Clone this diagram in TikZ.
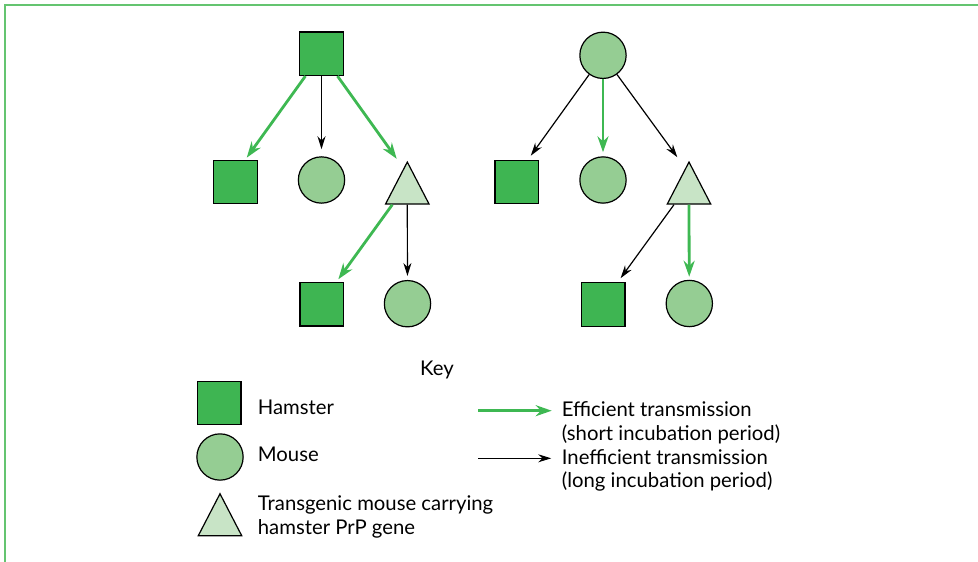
\documentclass[tikz,border=0pt]{standalone}
\usepackage{fontspec}
\setmainfont{Lato}
\usepackage{tikz}
\usetikzlibrary{arrows.meta,positioning,shapes.geometric}
\definecolor{hamfill}{RGB}{62,181,82}
\definecolor{mousefill}{RGB}{149,205,147}
\definecolor{tgfill}{RGB}{200,228,198}
\definecolor{effgreen}{RGB}{62,184,82}
\definecolor{framegreen}{RGB}{100,196,112}

\begin{document}
\begin{tikzpicture}[x=1pt,y=-1pt,>=Stealth,font=\fontsize{20.3}{23.7}\selectfont,
 hamster/.style={draw,line width=1.2pt,fill=hamfill,minimum size=43.5pt,inner sep=0pt},
 mouse/.style={circle,draw,line width=1.2pt,fill=mousefill,minimum size=46.3pt,inner sep=0pt},
 tgmouse/.style={isosceles triangle,isosceles triangle stretches,shape border rotate=90,draw,line width=1.2pt,fill=tgfill,minimum width=43.5pt,minimum height=42pt,inner sep=0pt,anchor=apex},
 eff/.style={draw=effgreen,line width=2.8pt,-{Stealth[length=16pt,width=11pt]}},
 ineff/.style={line width=1.2pt,-{Stealth[length=13pt,width=8pt]}},
 keytext/.style={anchor=base west,align=left,inner sep=0pt}]
 \useasboundingbox (0,0) rectangle (978,562);
 \draw[framegreen,line width=1.7pt] (5.2,562) -- (5.2,5.2) -- (978,5.2);
 \begin{scope}
 \node[hamster] (hroot) at (321.5,53.7) {};
 \node[hamster] (hleft) at (235.4,182) {};
 \node[mouse] (mleft) at (321.5,180) {};
 \node[tgmouse] (tleft) at (407.3,160.5) {};
 \node[hamster] (hlow) at (321.7,304.3) {};
 \node[mouse] (mlow) at (407.5,303.7) {};
 \draw[eff] (hroot) -- ([xshift=-11pt,yshift=2pt]hleft.north east);
 \draw[ineff,shorten >=7pt] (hroot) -- (mleft);
 \draw[eff] (hroot) -- ([xshift=-10.6pt,yshift=1.7pt]tleft.apex);
 \draw[eff] ([xshift=-15pt]tleft.lower side) -- ([xshift=-5.7pt,yshift=2.7pt]hlow.north east);
 \draw[ineff,shorten >=4pt] (tleft.lower side) -- (mlow);
 \end{scope}
 \begin{scope}
 \node[mouse] (mroot) at (603,55.3) {};
 \node[hamster] (hright) at (516.8,182) {};
 \node[mouse] (mright) at (603,180) {};
 \node[tgmouse] (tright) at (689,160.5) {};
 \node[hamster] (hrlow) at (603.3,304.5) {};
 \node[mouse] (mrlow) at (689.3,303.5) {};
 \draw[ineff] (mroot) -- ([xshift=-8.3pt,yshift=4pt]hright.north east);
 \draw[eff,shorten >=4pt] (mroot) -- (mright);
 \draw[ineff] (mroot) -- ([xshift=-11.7pt,yshift=3.3pt]tright.apex);
 \draw[ineff] ([xshift=-15pt]tright.lower side) -- ([xshift=-5pt,yshift=4pt]hrlow.north east);
 \draw[eff,shorten >=3pt] (tright.lower side) -- (mrlow);
 \end{scope}
 \begin{scope}
 \node (key) at (437,370) {Key};
 \node[hamster] (khamster) at (219.2,403) {};
 \node[keytext] (thamster) at (257.7,414.3) {Hamster};
 \node[mouse] (kmouse) at (220,457) {};
 \node[keytext] (tmouse) at (257.7,461.7) {Mouse};
 \node[tgmouse] (ktg) at (220,492.2) {};
 \node[keytext] (ttg) at (257.7,534) {Transgenic mouse carrying\\hamster PrP gene};
 \node[keytext] (teff) at (561.7,440.4) {Efficient transmission\\(short incubation period)};
 \node[keytext] (tineff) at (561.7,487.7) {Inefficient transmission\\(long incubation period)};
 \coordinate (effstart) at (478.3,410.7);
 \coordinate (ineffstart) at (478.3,458.3);
 \draw[eff] (effstart) -- ([xshift=-10pt]teff.west |- effstart);
 \draw[ineff] (ineffstart) -- ([xshift=-10.5pt]tineff.west |- ineffstart);
 \end{scope}
\end{tikzpicture}
\end{document}
